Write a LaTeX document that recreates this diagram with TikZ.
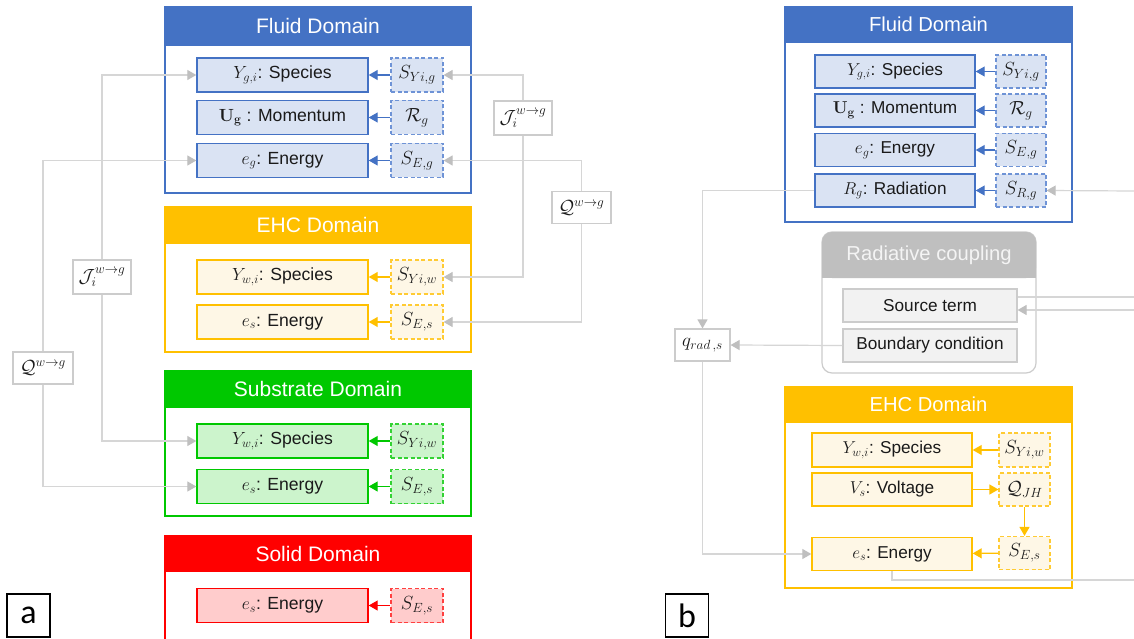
\RequirePackage{fix-cm}
\documentclass[tikz,border=0pt]{standalone}
\usepackage[no-math]{fontspec}
\setmainfont{Liberation Sans}
\newfontfamily\labfamily{Carlito}
\usetikzlibrary{arrows.meta}
\definecolor{cBlue}{HTML}{4472C4}
\definecolor{cBlueF}{HTML}{DAE3F3}
\definecolor{cBlueD}{HTML}{6E93D6}
\definecolor{cOrange}{HTML}{FFC000}
\definecolor{cOrangeF}{HTML}{FEF7E6}
\definecolor{cOrangeD}{HTML}{FFCB33}
\definecolor{cGreen}{HTML}{00C800}
\definecolor{cGreenF}{HTML}{CCF4CC}
\definecolor{cGreenD}{HTML}{33D233}
\definecolor{cRed}{HTML}{FF0000}
\definecolor{cRedF}{HTML}{FFCCCC}
\definecolor{cRedD}{HTML}{FF4040}
\definecolor{cLine}{HTML}{D6D6D6}
\definecolor{cTip}{HTML}{BFBFBF}
\definecolor{cBoxB}{HTML}{CCCCCC}
\definecolor{cGrayH}{HTML}{BFBFBF}
\definecolor{cGrayF}{HTML}{F2F2F2}
\definecolor{cHdrTxt}{HTML}{F4F4F4}
\definecolor{cTxt}{HTML}{1A1A1A}
\newcommand\vfnt{\fontsize{17.6}{20}\selectfont}
\newcommand\vfntB{\fontsize{17.2}{20}\selectfont}
\newcommand\sfnt{\fontsize{19}{21}\selectfont}
\newcommand\hfntA{\fontsize{21}{24}\selectfont}
\newcommand\hfntB{\fontsize{20.2}{23}\selectfont}
\tikzset{
  domframe/.style={draw=#1, line width=1.8pt, fill=white, inner sep=0},
  hdr/.style={draw=#1, fill=#1, line width=1.8pt, text=white, inner sep=0},
  vbox/.style={line width=1.4pt, inner sep=0, font=\vfnt, text=cTxt,
               minimum width=171pt, minimum height=34pt},
  sbox/.style={line width=1.2pt, inner sep=0, font=\sfnt, text=cTxt,
               dash pattern=on 4pt off 2.5pt, minimum width=52pt, minimum height=34pt},
  vB/.style={vbox, draw=cBlue, fill=cBlueF},
  sB/.style={sbox, draw=cBlueD, fill=cBlueF},
  vO/.style={vbox, draw=cOrange, fill=cOrangeF},
  sO/.style={sbox, draw=cOrangeD, fill=cOrangeF},
  vG/.style={vbox, draw=cGreen, fill=cGreenF},
  sG/.style={sbox, draw=cGreenD, fill=cGreenF},
  vR/.style={vbox, draw=cRed, fill=cRedF},
  sR/.style={sbox, draw=cRedD, fill=cRedF},
  rb/.style={font=\vfntB},
  rs/.style={font=\sfnt},
  carr/.style={draw=#1, line width=1.2pt, -{Triangle[length=9pt,width=10pt]}},
  gline/.style={draw=cLine, line width=1.2pt, -{Triangle[length=9pt,width=10pt,color=cTip]}},
  gplain/.style={draw=cLine, line width=1.2pt},
  cbox/.style={draw=cBoxB, fill=white, line width=1.2pt, inner sep=0, font=\sfnt, text=cTxt},
  gbox/.style={draw=cBoxB, fill=cGrayF, line width=1.2pt, inner sep=0, font=\vfntB, text=cTxt,
               minimum width=174pt, minimum height=33pt},
  labbox/.style={draw=black, line width=1.5pt, inner sep=0, minimum width=43pt, minimum height=43pt,
                 font=\labfamily\fontsize{34}{34}\selectfont}
}
\begin{document}
\begin{tikzpicture}[x=1pt, y=-1pt]
\useasboundingbox (0,0) rectangle (1134,639);
\fill[white] (0,0) rectangle (1134,639);
%%%%%%%%%%%%%%%% panel a
% frames
\node[domframe=cBlue, minimum width=306pt, minimum height=186pt] (fluidA) at (318,100) {};
\node[hdr=cBlue, minimum width=306pt, minimum height=38pt, font=\hfntA] (fluidAh) at (318,26) {Fluid Domain};
\node[domframe=cOrange, minimum width=306pt, minimum height=145pt] (ehcA) at (318,279.5) {};
\node[hdr=cOrange, minimum width=306pt, minimum height=36pt, font=\hfntA] (ehcAh) at (318,225) {EHC Domain};
\node[domframe=cGreen, minimum width=306pt, minimum height=145pt] (subA) at (318,443.5) {};
\node[hdr=cGreen, minimum width=306pt, minimum height=36pt, font=\hfntA] (subAh) at (318,389) {Substrate Domain};
\node[domframe=cRed, minimum width=306pt, minimum height=120pt] (solA) at (318,596) {};
\node[hdr=cRed, minimum width=306pt, minimum height=36pt, font=\hfntA] (solAh) at (318,553.5) {Solid Domain};
% fluid
\node[vB] (YgA) at (282.5,75) {$Y_{g,i}$: Species};
\node[sB] (SYgA) at (417,75) {$S_{Yi,g}$};
\node[vB] (UgA) at (282.5,117.5) {$\mathbf{U}_\mathbf{g}$ : Momentum};
\node[sB] (RgA) at (417,117.5) {$\mathcal{R}_g$};
\node[vB] (egA) at (282.5,160.5) {$e_g$: Energy};
\node[sB] (SEgA) at (417,160.5) {$S_{E,g}$};
% ehc
\node[vO] (YwA) at (282.5,277) {$Y_{w,i}$: Species};
\node[sO] (SYwA) at (417,277) {$S_{Yi,w}$};
\node[vO] (esA) at (282.5,322) {$e_s$: Energy};
\node[sO] (SEsA) at (417,322) {$S_{E,s}$};
% substrate
\node[vG] (YwSub) at (282.5,441) {$Y_{w,i}$: Species};
\node[sG] (SYwSub) at (417,441) {$S_{Yi,w}$};
\node[vG] (esSub) at (282.5,486.5) {$e_s$: Energy};
\node[sG] (SEsSub) at (417,486.5) {$S_{E,s}$};
% solid
\node[vR] (esSol) at (282.5,605.5) {$e_s$: Energy};
\node[sR] (SEsSol) at (417,605.5) {$S_{E,s}$};
% inner arrows
\draw[carr=cBlue] (SYgA) -- (YgA);
\draw[carr=cBlue] (RgA) -- (UgA);
\draw[carr=cBlue] (SEgA) -- (egA);
\draw[carr=cOrange] (SYwA) -- (YwA);
\draw[carr=cOrange] (SEsA) -- (esA);
\draw[carr=cGreen] (SYwSub) -- (YwSub);
\draw[carr=cGreen] (SEsSub) -- (esSub);
\draw[carr=cRed] (SEsSol) -- (esSol);
% coupling boxes
\node[cbox, minimum width=58pt, minimum height=34pt] (JR) at (523,118) {$\mathcal{J}_i^{w\to g}$};
\node[cbox, minimum width=59pt, minimum height=32pt] (QR) at (581.5,207.5) {$\mathcal{Q}^{w\to g}$};
\node[cbox, minimum width=58pt, minimum height=34pt] (JL) at (102,277) {$\mathcal{J}_i^{w\to g}$};
\node[cbox, minimum width=60pt, minimum height=32pt] (QL) at (43,368) {$\mathcal{Q}^{w\to g}$};
\draw[gline] (JL.north) |- (YgA.west);
\draw[gline] (JL.south) |- (YwSub.west);
\draw[gline] (QL.north) |- (egA.west);
\draw[gline] (QL.south) |- (esSub.west);
\draw[gline] (JR.north) |- (SYgA.east);
\draw[gline] (JR.south) |- (SYwA.east);
\draw[gline] (QR.north) |- (SEgA.east);
\draw[gline] (QR.south) |- (SEsA.east);
\node[labbox] (labA) at (28.5,615.5) {a};
%%%%%%%%%%%%%%%% panel b
\node[domframe=cBlue, minimum width=287pt, minimum height=215pt] (fluidB) at (928.5,114.5) {};
\node[hdr=cBlue, minimum width=287pt, minimum height=35pt, font=\hfntB] (fluidBh) at (928.5,24.5) {Fluid Domain};
\node[domframe=cOrange, minimum width=287pt, minimum height=201pt] (ehcB) at (928.5,487.5) {};
\node[hdr=cOrange, minimum width=287pt, minimum height=35pt, font=\hfntB] (ehcBh) at (928.5,404.5) {EHC Domain};
% radiative coupling
\node[draw=cBoxB, fill=white, line width=1.2pt, rounded corners=10pt, minimum width=214pt, minimum height=141pt] (radC) at (929,302.5) {};
\fill[cGrayH, rounded corners=10pt] (822,232) rectangle (1036,278);
\fill[cGrayH] (822,262) rectangle (1036,278);
\node[font=\hfntB, text=cHdrTxt] (radH) at (929,255) {Radiative coupling};
\node[gbox] (ST) at (930,305.5) {Source term};
\node[gbox] (BC) at (930,345.5) {Boundary condition};
% fluid b
\node[vB, rb, minimum width=160pt, minimum height=33pt] (YgB) at (895,71.5) {$Y_{g,i}$: Species};
\node[sB, rs, minimum width=50pt, minimum height=33pt] (SYgB) at (1021,71.5) {$S_{Yi,g}$};
\node[vB, rb, minimum width=160pt, minimum height=33pt] (UgB) at (895,110.5) {$\mathbf{U}_\mathbf{g}$ : Momentum};
\node[sB, rs, minimum width=50pt, minimum height=33pt] (RgB) at (1021,110.5) {$\mathcal{R}_g$};
\node[vB, rb, minimum width=160pt, minimum height=33pt] (egB) at (895,150) {$e_g$: Energy};
\node[sB, rs, minimum width=50pt, minimum height=33pt] (SEgB) at (1021,150) {$S_{E,g}$};
\node[vB, rb, minimum width=160pt, minimum height=33pt] (RadB) at (895,190.5) {$R_g$: Radiation};
\node[sB, rs, minimum width=50pt, minimum height=33pt] (SRgB) at (1021,190.5) {$S_{R,g}$};
\draw[carr=cBlue] (SYgB) -- (YgB);
\draw[carr=cBlue] (RgB) -- (UgB);
\draw[carr=cBlue] (SEgB) -- (egB);
\draw[carr=cBlue] (SRgB) -- (RadB);
% ehc b
\node[vO, rb, minimum width=160pt, minimum height=34pt] (YwB) at (892,450) {$Y_{w,i}$: Species};
\node[sO, rs, minimum width=51pt, minimum height=34pt] (SYwB) at (1024.5,450) {$S_{Yi,w}$};
\node[vO, rb, minimum width=160pt, minimum height=33pt] (VsB) at (892,489.5) {$V_s$: Voltage};
\node[sO, rs, minimum width=51pt, minimum height=33pt] (QJH) at (1024.5,489.5) {$\mathcal{Q}_{JH}$};
\node[vO, rb, minimum width=160pt, minimum height=33pt] (esB) at (892,554) {$e_s$: Energy};
\node[sO, rs, minimum width=51pt, minimum height=33pt] (SEsB) at (1024.5,553) {$S_{E,s}$};
\draw[carr=cOrange] (SYwB) -- (YwB);
\draw[carr=cOrange] (VsB) -- (QJH);
\draw[carr=cOrange] (QJH) -- (SEsB);
\draw[carr=cOrange] (SEsB) -- (esB);
% q_rad
\node[cbox, minimum width=55pt, minimum height=32pt] (qrad) at (702.5,345) {$q_{rad\,,s}$};
\draw[gline] (RadB.west) -| (qrad.north);
\draw[gline] (BC.west) -- (qrad.east);
\draw[gline] (qrad.south) |- (esB.west);
% connections to the right edge
\coordinate (edgeSR) at (1134,191);
\coordinate (edgeST1) at (1134,297);
\coordinate (edgeST2) at (1134,310);
\coordinate (edgeES) at (1134,580);
\draw[gline] (edgeSR) -- (SRgB.east);
\draw[gplain] (ST.east |- edgeST1) -- (edgeST1);
\draw[gline] (edgeST2) -- (ST.east |- edgeST2);
\draw[gplain] (esB.south) |- (edgeES);
\node[labbox] (labB) at (687,615.5) {b};
\end{tikzpicture}
\end{document}
